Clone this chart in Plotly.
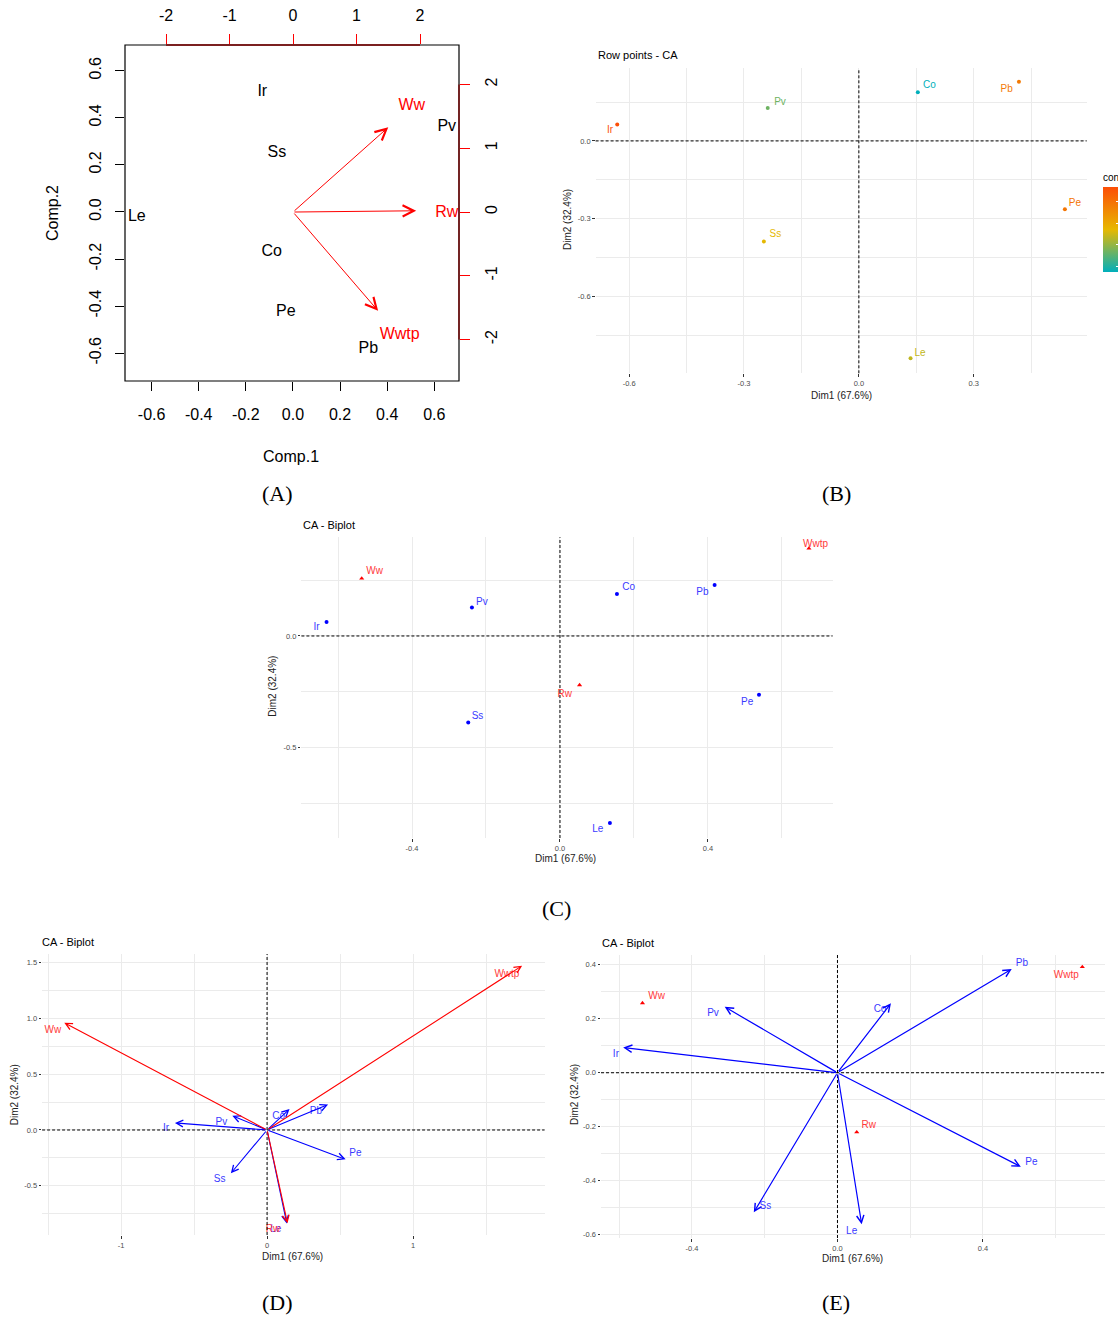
import plotly.graph_objects as go

W, H = 1118, 1317
OFF = 0  # body margin removed in the page via post_script
SANS = "Liberation Sans, Arial, sans-serif"
SERIF = "Liberation Serif, Times New Roman, serif"

def px(x):
    return (x - OFF) / W

def py(y):
    return 1 - (y - OFF) / H

# ---------------- data ----------------
rows = ["Co", "Ir", "Le", "Pb", "Pe", "Pv", "Ss"]
cols = ["Rw", "Ww", "Wwtp"]

# Panel A (base R biplot): rows on Comp axes, columns on top/right axes
a_row_x = [-0.09, -0.13, -0.663, 0.32, -0.03, 0.653, -0.068]
a_row_y = [-0.17, 0.51, -0.02, -0.58, -0.425, 0.36, 0.25]
a_col_x = [1.94, 1.50, 1.34]
a_col_y = [0.02, 1.33, -1.55]
a_col_lab_x = [2.42, 1.87, 1.68]
a_col_lab_y = [-0.02, 1.66, -1.93]

# Row principal coordinates (B, C, D)
row_d1 = [0.154, -0.631, 0.135, 0.418, 0.538, -0.238, -0.248]
row_d2 = [0.188, 0.063, -0.838, 0.228, -0.263, 0.127, -0.388]
row_contrib = [3.7, 23.5, 11.9, 19.4, 19.9, 8.4, 13.5]

# Column principal coordinates (C, E)
col_d1 = [0.053, -0.536, 0.673]
col_d2 = [-0.220, 0.258, 0.392]

# Column coordinates in panel D
colD_d1 = [0.140, -1.389, 1.747]
colD_d2 = [-0.836, 0.961, 1.472]

# Row coordinates in panel E
rowE_d1 = [0.147, -0.589, 0.0665, 0.479, 0.504, -0.310, -0.230]
rowE_d2 = [0.257, 0.093, -0.561, 0.384, -0.348, 0.244, -0.517]

# label positions (repelled text)
B_lab_x = [0.184, -0.650, 0.160, 0.386, 0.564, -0.206, -0.218]
B_lab_y = [0.213, 0.042, -0.819, 0.199, -0.240, 0.149, -0.360]
C_rlab_x = [0.186, -0.658, 0.102, 0.385, 0.506, -0.211, -0.223]
C_rlab_y = [0.215, 0.039, -0.869, 0.194, -0.297, 0.151, -0.361]
C_clab_x = [0.013, -0.501, 0.691]
C_clab_y = [-0.260, 0.288, 0.408]
D_rlab_x = [0.079, -0.692, 0.06, 0.335, 0.605, -0.313, -0.325]
D_rlab_y = [0.119, 0.009, -0.896, 0.164, -0.215, 0.069, -0.448]
D_clab_x = [0.04, -1.467, 1.643]
D_clab_y = [-0.896, 0.896, 1.389]
E_rlab_x = [0.117, -0.609, 0.039, 0.507, 0.533, -0.342, -0.198]
E_rlab_y = [0.236, 0.069, -0.589, 0.405, -0.331, 0.221, -0.497]
E_clab_x = [0.086, -0.497, 0.629]
E_clab_y = [-0.197, 0.284, 0.359]

CS = [[0.0, "#00AFBB"], [0.5, "#E7B800"], [1.0, "#FC4E07"]]
CMIN, CMAX = 3.7, 23.5


def hex2rgb(h):
    h = h.lstrip("#")
    return tuple(int(h[i:i + 2], 16) for i in (0, 2, 4))


def cs_color(v):
    t = (v - CMIN) / (CMAX - CMIN)
    t = max(0.0, min(1.0, t))
    for (t0, c0), (t1, c1) in zip(CS[:-1], CS[1:]):
        if t <= t1:
            f = (t - t0) / (t1 - t0)
            a, b = hex2rgb(c0), hex2rgb(c1)
            return "rgb(%d,%d,%d)" % tuple(round(a[i] + f * (b[i] - a[i])) for i in range(3))
    return CS[-1][1]


fig = go.Figure()
annotations = []
shapes = []


def paper_text(x, y, text, size, color="black", family=SANS, angle=0, xanchor="center"):
    annotations.append(dict(x=px(x), y=py(y), xref="paper", yref="paper", text=text,
                            showarrow=False, xanchor=xanchor, yanchor="middle", textangle=angle,
                            font=dict(family=family, size=size, color=color)))


# ---------------- Panel A ----------------
fig.add_trace(go.Scatter(x=a_row_x, y=a_row_y, mode="text", text=rows,
                         textfont=dict(family=SANS, size=16, color="black"),
                         xaxis="x", yaxis="y", hoverinfo="skip", showlegend=False))
fig.add_trace(go.Scatter(x=a_col_lab_x, y=a_col_lab_y, mode="text", text=cols,
                         textfont=dict(family=SANS, size=16, color="red"),
                         xaxis="x2", yaxis="y2", hoverinfo="skip", showlegend=False))
for i in range(len(cols)):
    annotations.append(dict(x=a_col_x[i], y=a_col_y[i], ax=0, ay=0, xref="x2", yref="y2",
                            axref="x2", ayref="y2", text="", showarrow=True, arrowhead=5,
                            arrowsize=2.2, arrowwidth=1, arrowcolor="red"))
shapes.append(dict(type="rect", xref="x domain", yref="y domain", x0=0, x1=1, y0=0, y1=1,
                   line=dict(color="black", width=1.2), layer="above"))
shapes.append(dict(type="line", xref="x2", yref="y domain", x0=-2, x1=2, y0=1, y1=1,
                   line=dict(color="#7a0000", width=1.3), layer="above"))
shapes.append(dict(type="line", xref="x domain", yref="y2", x0=1, x1=1, y0=-2, y1=2,
                   line=dict(color="#7a0000", width=1.3), layer="above"))

a_ticks = [-0.6, -0.4, -0.2, 0.0, 0.2, 0.4, 0.6]
a_ticktext = ["%.1f" % v for v in a_ticks]
a_top = [-2, -1, 0, 1, 2]
a_toptext = [str(v) for v in a_top]

base_A = dict(showgrid=False, zeroline=False, showline=False, ticks="outside",
              tickfont=dict(family=SANS, size=16, color="black"), tickwidth=1)

layout_axes = {}
layout_axes["xaxis"] = dict(base_A, domain=[px(125), px(459)], anchor="y", range=[-0.713, 0.705],
                            tickmode="array", tickvals=a_ticks, ticktext=a_ticktext,
                            ticklen=9, tickcolor="black", ticklabelstandoff=10)
layout_axes["yaxis"] = dict(base_A, domain=[py(381), py(45)], anchor="x", range=[-0.718, 0.709],
                            tickmode="array", tickvals=a_ticks, ticktext=a_ticktext,
                            ticklen=9, tickcolor="black", tickangle=-90, ticklabelstandoff=8)
layout_axes["xaxis2"] = dict(base_A, overlaying="x", side="top", anchor="y", range=[-2.646, 2.614],
                             tickmode="array", tickvals=a_top, ticktext=a_toptext,
                             ticklen=10, tickcolor="red", ticklabelstandoff=7)
layout_axes["yaxis2"] = dict(base_A, overlaying="y", side="right", anchor="x", range=[-2.65, 2.62],
                             tickmode="array", tickvals=a_top, ticktext=a_toptext,
                             ticklen=10, tickcolor="red", tickangle=-90, ticklabelstandoff=8)

paper_text(291, 456, "Comp.1", 16)
paper_text(53, 213, "Comp.2", 16, angle=-90)

# ---------------- ggplot-like panels ----------------
GRID = "#EBEBEB"
TICKF = dict(family=SANS, size=7.5, color="#4D4D4D")


def gg_axes(xn, yn, xdom, ydom, xr, yr, xt, yt, xtt, ytt, xm, ym):
    xa = dict(domain=xdom, anchor=yn, range=xr, tickmode="array", tickvals=xt, ticktext=xtt,
              showgrid=True, gridcolor=GRID, gridwidth=1, zeroline=False, showline=False,
              ticks="outside", ticklen=2.5, tickwidth=1, tickcolor="#333333", tickfont=TICKF,
              minor=dict(tickmode="array", tickvals=xm, showgrid=True, gridcolor=GRID,
                         gridwidth=0.7, ticks=""))
    ya = dict(domain=ydom, anchor=xn, range=yr, tickmode="array", tickvals=yt, ticktext=ytt,
              showgrid=True, gridcolor=GRID, gridwidth=1, zeroline=False, showline=False,
              ticks="outside", ticklen=2.5, tickwidth=1, tickcolor="#333333", tickfont=TICKF,
              minor=dict(tickmode="array", tickvals=ym, showgrid=True, gridcolor=GRID,
                         gridwidth=0.7, ticks=""))
    return xa, ya


def fmt(vals, nd=1):
    return [("%." + str(nd) + "f") % v for v in vals]


def zero_lines(xn, yn):
    shapes.append(dict(type="line", xref=xn, yref=yn + " domain", x0=0, x1=0, y0=0, y1=1,
                       line=dict(color="black", width=1, dash="3px,2px"), layer="above"))
    shapes.append(dict(type="line", xref=xn + " domain", yref=yn, x0=0, x1=1, y0=0, y1=0,
                       line=dict(color="black", width=1, dash="3px,2px"), layer="above"))


def add_texts(title, tl, ty, xlab_pos, ylab_pos):
    paper_text(tl, ty, title, 11, xanchor="left")
    paper_text(xlab_pos[0], xlab_pos[1], "Dim1 (67.6%)", 10, color="#222222")
    paper_text(ylab_pos[0], ylab_pos[1], "Dim2 (32.4%)", 10, color="#222222", angle=-90)


# Panel B
xa, ya = gg_axes("x3", "y3", [px(595.6), px(1086.7)], [py(373.3), py(68.3)],
                 [-0.6875, 0.595], [-0.896, 0.280],
                 [-0.6, -0.3, 0.0, 0.3], [-0.6, -0.3, 0.0],
                 fmt([-0.6, -0.3, 0.0, 0.3]), fmt([-0.6, -0.3, 0.0]),
                 [-0.45, -0.15, 0.15, 0.45], [0.15, -0.15, -0.45, -0.75])
layout_axes["xaxis3"], layout_axes["yaxis3"] = xa, ya
zero_lines("x3", "y3")
fig.add_trace(go.Scatter(x=row_d1, y=row_d2, mode="markers", xaxis="x3", yaxis="y3",
                         marker=dict(size=4, color=row_contrib, colorscale=CS, cmin=CMIN, cmax=CMAX,
                                     showscale=True,
                                     colorbar=dict(x=px(1103), xanchor="left", y=py(271.7),
                                                   yanchor="bottom", len=101, lenmode="pixels",
                                                   thickness=17, thicknessmode="pixels",
                                                   outlinewidth=0, xpad=0, ypad=0,
                                                   tickmode="array", tickvals=[5, 10, 15, 20],
                                                   ticks="inside", ticklen=4, tickcolor="white",
                                                   showticklabels=False,
                                                   title=dict(text="contrib", side="top",
                                                              font=dict(family=SANS, size=10,
                                                                        color="black")))),
                         hoverinfo="skip", showlegend=False))
fig.add_trace(go.Scatter(x=B_lab_x, y=B_lab_y, mode="text", text=rows, xaxis="x3", yaxis="y3",
                         textfont=dict(family=SANS, size=10, color=[cs_color(v) for v in row_contrib]),
                         hoverinfo="skip", showlegend=False))
add_texts("Row points - CA", 595.6, 55, (841, 396), (568, 220))

# Panel C
xa, ya = gg_axes("x4", "y4", [px(301.4), px(832.6)], [py(838), py(537.3)],
                 [-0.699, 0.737], [-0.905, 0.442],
                 [-0.4, 0.0, 0.4], [-0.5, 0.0],
                 fmt([-0.4, 0.0, 0.4]), fmt([-0.5, 0.0]),
                 [-0.6, -0.2, 0.2, 0.6], [0.25, -0.25, -0.75])
layout_axes["xaxis4"], layout_axes["yaxis4"] = xa, ya
zero_lines("x4", "y4")
fig.add_trace(go.Scatter(x=row_d1, y=row_d2, mode="markers", xaxis="x4", yaxis="y4",
                         marker=dict(size=4, color="blue"), hoverinfo="skip", showlegend=False))
fig.add_trace(go.Scatter(x=col_d1, y=col_d2, mode="markers", xaxis="x4", yaxis="y4",
                         marker=dict(size=4.5, color="red", symbol="triangle-up"),
                         hoverinfo="skip", showlegend=False))
fig.add_trace(go.Scatter(x=C_rlab_x, y=C_rlab_y, mode="text", text=rows, xaxis="x4", yaxis="y4",
                         textfont=dict(family=SANS, size=10, color="#3a3aff"),
                         hoverinfo="skip", showlegend=False))
fig.add_trace(go.Scatter(x=C_clab_x, y=C_clab_y, mode="text", text=cols, xaxis="x4", yaxis="y4",
                         textfont=dict(family=SANS, size=10, color="#ff3a3a"),
                         hoverinfo="skip", showlegend=False))
add_texts("CA - Biplot", 300.6, 525, (565.5, 858.3), (273, 686.7))

# Panel D
xa, ya = gg_axes("x5", "y5", [px(42.1), px(544.6)], [py(1235), py(954)],
                 [-1.541, 1.901], [-0.941, 1.577],
                 [-1, 0, 1], [-0.5, 0.0, 0.5, 1.0, 1.5],
                 ["-1", "0", "1"], fmt([-0.5, 0.0, 0.5, 1.0, 1.5]),
                 [-1.5, -0.5, 0.5, 1.5], [1.25, 0.75, 0.25, -0.25, -0.75])
layout_axes["xaxis5"], layout_axes["yaxis5"] = xa, ya
zero_lines("x5", "y5")
for i in range(len(rows)):
    annotations.append(dict(x=row_d1[i], y=row_d2[i], ax=0, ay=0, xref="x5", yref="y5",
                            axref="x5", ayref="y5", text="", showarrow=True, arrowhead=5,
                            arrowsize=1.2, arrowwidth=1.1, arrowcolor="blue"))
for i in range(len(cols)):
    annotations.append(dict(x=colD_d1[i], y=colD_d2[i], ax=0, ay=0, xref="x5", yref="y5",
                            axref="x5", ayref="y5", text="", showarrow=True, arrowhead=5,
                            arrowsize=1.2, arrowwidth=1.1, arrowcolor="red"))
fig.add_trace(go.Scatter(x=D_rlab_x, y=D_rlab_y, mode="text", text=rows, xaxis="x5", yaxis="y5",
                         textfont=dict(family=SANS, size=10, color="#3a3aff"),
                         hoverinfo="skip", showlegend=False))
fig.add_trace(go.Scatter(x=D_clab_x, y=D_clab_y, mode="text", text=cols, xaxis="x5", yaxis="y5",
                         textfont=dict(family=SANS, size=10, color="#ff3a3a"),
                         hoverinfo="skip", showlegend=False))
add_texts("CA - Biplot", 40.4, 941.7, (292, 1256.7), (14.3, 1095))

# Panel E
xa, ya = gg_axes("x6", "y6", [px(601), px(1104.5)], [py(1238), py(955)],
                 [-0.650, 0.734], [-0.612, 0.436],
                 [-0.4, 0.0, 0.4], [-0.6, -0.4, -0.2, 0.0, 0.2, 0.4],
                 fmt([-0.4, 0.0, 0.4]), fmt([-0.6, -0.4, -0.2, 0.0, 0.2, 0.4]),
                 [-0.6, -0.2, 0.2, 0.6], [0.3, 0.1, -0.1, -0.3, -0.5])
layout_axes["xaxis6"], layout_axes["yaxis6"] = xa, ya
zero_lines("x6", "y6")
for i in range(len(rows)):
    annotations.append(dict(x=rowE_d1[i], y=rowE_d2[i], ax=0, ay=0, xref="x6", yref="y6",
                            axref="x6", ayref="y6", text="", showarrow=True, arrowhead=5,
                            arrowsize=1.2, arrowwidth=1.2, arrowcolor="blue"))
fig.add_trace(go.Scatter(x=col_d1, y=col_d2, mode="markers", xaxis="x6", yaxis="y6",
                         marker=dict(size=4.5, color="red", symbol="triangle-up"),
                         hoverinfo="skip", showlegend=False))
fig.add_trace(go.Scatter(x=E_rlab_x, y=E_rlab_y, mode="text", text=rows, xaxis="x6", yaxis="y6",
                         textfont=dict(family=SANS, size=10, color="#3a3aff"),
                         hoverinfo="skip", showlegend=False))
fig.add_trace(go.Scatter(x=E_clab_x, y=E_clab_y, mode="text", text=cols, xaxis="x6", yaxis="y6",
                         textfont=dict(family=SANS, size=10, color="#ff3a3a"),
                         hoverinfo="skip", showlegend=False))
add_texts("CA - Biplot", 600, 942.7, (852.5, 1258), (574, 1095))

# ---------------- panel letters ----------------
for lab, (lx, ly) in zip(["(A)", "(B)", "(C)", "(D)", "(E)"],
                         [(277, 493), (836, 493), (556, 908), (277, 1302), (836, 1302)]):
    paper_text(lx, ly, lab, 22, family=SERIF)

fig.update_layout(width=W, height=H, margin=dict(l=0, r=0, t=0, b=0, autoexpand=False),
                  paper_bgcolor="white", plot_bgcolor="white", showlegend=False,
                  annotations=annotations, shapes=shapes, **layout_axes)

fig.write_html("out.html", config={"displayModeBar": False},
               post_script="document.body.style.margin='0px';"
                           "document.documentElement.style.margin='0px';"
                           "document.body.style.overflow='hidden';")
